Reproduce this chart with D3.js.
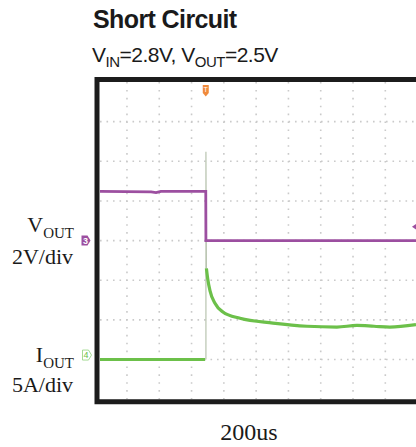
<!DOCTYPE html>
<html>
<head>
<meta charset="utf-8">
<script src="https://cdn.jsdelivr.net/npm/d3@7/dist/d3.min.js"></script>
<style>
  body { margin: 0; background: #fff; }
  svg { display: block; }
</style>
</head>
<body>
<div class="canvas"></div>
<script>
const width = 416, height = 447

// time in us (200us/div), Vout in V (2V/div), Iout in A (5A/div)
const timeTicks = [0, 200, 400, 600, 800, 1000, 1200, 1400, 1600, 1800]
const voltTicks = [-6, -4, -2, 0, 2, 4, 6]

const voutTime = [-167, 150, 180, 210, 488, 489, 520, 800, 1100, 1400, 1790]
const voutVals = [2.48, 2.46, 2.42, 2.48, 2.48, 0.0, 0.0, 0.0, 0.0, 0.0, 0.0]

const ioutPreTime = [-167, 484]
const ioutPreVals = [0, 0]

const spikeTime = [489, 489, 492]
const spikeVals = [0, 26.2, 11.5]

const ioutTime = [492, 500, 514, 545, 594, 700, 904, 1115, 1300, 1424, 1530, 1628, 1790]
const ioutVals = [11.5, 10.2, 8.7, 7.1, 6.0, 5.2, 4.6, 4.2, 4.1, 4.3, 4.2, 4.1, 4.4]

const svg = d3.select('.canvas').append('svg').attr('width', width).attr('height', height)

const [mt, mb, ml, mr] = [82, 399.2, 100, 416]

const x = d3.scaleLinear().domain([-167, 1790]).range([ml, mr])
const yV = d3.scaleLinear().domain([-8, 8]).range([mb, mt])
const yI = d3.scaleLinear().domain([-5, 35]).range([mb, mt])

// grid
const grid = svg.append('g')
grid.selectAll('.vgrid').data(timeTicks).enter()
    .append('line')
    .attr('x1', d => x(d)).attr('x2', d => x(d))
    .attr('y1', mt).attr('y2', mb)
    .attr('stroke', '#cacaca')
    .attr('stroke-width', 1.6)
    .attr('stroke-dasharray', '1.6,6.3')
grid.selectAll('.hgrid').data(voltTicks).enter()
    .append('line')
    .attr('x1', ml).attr('x2', mr + 4)
    .attr('y1', d => yV(d)).attr('y2', d => yV(d))
    .attr('stroke', '#cacaca')
    .attr('stroke-width', 1.6)
    .attr('stroke-dasharray', '1.6,4.9')

const line = (xs, ys, yScale, curve) => d3.line()
    .curve(curve || d3.curveLinear)
    .x((d, i) => x(xs[i]))
    .y((d, i) => yScale(ys[i]))(xs)

// traces
svg.append('path')
    .attr('d', line(spikeTime, spikeVals, yI))
    .attr('fill', 'none')
    .attr('stroke', '#b9c4b0')
    .attr('stroke-width', 1.2)

svg.append('path')
    .attr('d', line(ioutPreTime, ioutPreVals, yI))
    .attr('fill', 'none')
    .attr('stroke', '#6cc04a')
    .attr('stroke-width', 3)

svg.append('path')
    .attr('d', line(ioutTime, ioutVals, yI, d3.curveMonotoneX))
    .attr('fill', 'none')
    .attr('stroke', '#6cc04a')
    .attr('stroke-width', 3.2)

svg.append('path')
    .attr('d', line(voutTime, voutVals, yV))
    .attr('fill', 'none')
    .attr('stroke', '#9c4fa0')
    .attr('stroke-width', 2.8)

// frame
svg.append('path')
    .attr('d', `M${mr + 10},${mt - 2.5} H${ml - 3} V${mb + 2.5} H${mr + 10}`)
    .attr('fill', 'none')
    .attr('stroke', '#1c1c1c')
    .attr('stroke-width', 5)

// trigger marker (top) and trigger level marker (right)
const tx = x(488)
svg.append('path')
    .attr('d', `M${tx - 3},${mt + 3} h6 v8 l-3,3.5 l-3,-3.5 Z`)
    .attr('fill', '#f08a3c')
svg.append('text')
    .attr('x', tx).attr('y', mt + 10)
    .attr('text-anchor', 'middle')
    .attr('font-family', 'Liberation Sans')
    .attr('font-size', 7).attr('fill', '#fff')
    .text('T')
svg.append('path')
    .attr('d', `M${x(1765)},${yV(0.7)} l5,-3.5 v7 Z`)
    .attr('fill', '#9c4fa0')

// channel markers
svg.append('path')
    .attr('d', `M81.5,${yV(0) - 5} h6 l3,5 l-3,5 h-6 Z`)
    .attr('fill', '#9c4fa0')
svg.append('text')
    .attr('x', 85.5).attr('y', yV(0) + 3.5)
    .attr('text-anchor', 'middle')
    .attr('font-family', 'Liberation Sans')
    .attr('font-size', 9).attr('font-weight', 'bold').attr('fill', '#fff')
    .text('3')
svg.append('path')
    .attr('d', `M82.5,${yI(0) - 9.5} h6 l3,5 l-3,5 h-6 Z`)
    .attr('fill', '#fff')
    .attr('stroke', '#8fd07a')
    .attr('stroke-width', 0.8)
svg.append('text')
    .attr('x', 86).attr('y', yI(0) - 1.5)
    .attr('text-anchor', 'middle')
    .attr('font-family', 'Liberation Sans')
    .attr('font-size', 9).attr('fill', '#6cc04a')
    .text('4')

// title
svg.append('text')
    .attr('x', 93).attr('y', 28)
    .attr('font-family', 'Liberation Sans')
    .attr('font-weight', 'bold')
    .attr('font-size', 25)
    .attr('letter-spacing', -0.6)
    .attr('fill', '#1a1a1a')
    .text('Short Circuit')

const sub = svg.append('text')
    .attr('x', 92).attr('y', 62)
    .attr('font-family', 'Liberation Sans')
    .attr('font-size', 21)
    .attr('letter-spacing', -0.5)
    .attr('fill', '#1a1a1a')
sub.append('tspan').text('V')
sub.append('tspan').attr('font-size', 15).attr('dy', 5).text('IN')
sub.append('tspan').attr('dy', -5).text('=2.8V, V')
sub.append('tspan').attr('font-size', 15).attr('dy', 5).text('OUT')
sub.append('tspan').attr('dy', -5).text('=2.5V')

// channel labels
const serif = 'Liberation Serif'
const chanLabel = (main, subText, scale, y1, y2) => {
    const t = svg.append('text')
        .attr('x', 74).attr('y', y1)
        .attr('text-anchor', 'end')
        .attr('font-family', serif)
        .attr('font-size', 22)
        .attr('fill', '#1a1a1a')
    t.append('tspan').text(main)
    t.append('tspan').attr('font-size', 15).attr('dy', 6).text(subText)
    svg.append('text')
        .attr('x', 73).attr('y', y2)
        .attr('text-anchor', 'end')
        .attr('font-family', serif)
        .attr('font-size', 22)
        .attr('fill', '#1a1a1a')
        .text(scale)
}
chanLabel('V', 'OUT', '2V/div', 232, 264)
chanLabel('I', 'OUT', '5A/div', 362, 392)

svg.append('text')
    .attr('x', 249).attr('y', 440)
    .attr('text-anchor', 'middle')
    .attr('font-family', serif)
    .attr('font-size', 24)
    .attr('fill', '#1a1a1a')
    .text('200us')
</script>
</body>
</html>
